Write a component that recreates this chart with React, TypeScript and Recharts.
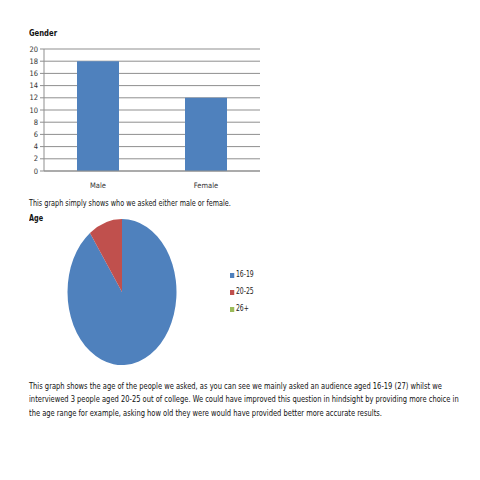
import { Bar, BarChart, CartesianGrid, Cell, Pie, PieChart, XAxis, YAxis } from 'recharts'

// Gender chart
const genders = ['Male', 'Female']
const genderCounts = [18, 12]
const genderTicks = [0, 2, 4, 6, 8, 10, 12, 14, 16, 18, 20]

// Age chart
const ageGroups = ['16-19', '20-25', '26+']
const ageCounts = [27, 3, 0]
const ageColors = ['#4F81BD', '#C0504D', '#9BBB59']

const paragraph = [
  'This graph shows the age of the people we asked, as you can see we mainly asked an audience aged 16-19 (27) whilst we',
  'interviewed 3 people aged 20-25 out of college. We could have improved this question in hindsight by providing more choice in',
  'the age range for example, asking how old they were would have provided better more accurate results.',
]

const FONT = '"DejaVu Sans Condensed", "Liberation Sans", sans-serif'

const genderData = genders.map((name, i) => ({ name, count: genderCounts[i] }))
const ageData = ageGroups.map((name, i) => ({ name, value: ageCounts[i] }))

const text = (top: number, size: number, bold = false, squeeze = 0.8): React.CSSProperties => ({
  position: 'absolute',
  left: 29,
  top,
  fontSize: size,
  fontWeight: bold ? 'bold' : 'normal',
  whiteSpace: 'nowrap',
  lineHeight: 1,
  color: '#111',
  transform: `scaleX(${squeeze})`,
  transformOrigin: '0 0',
})

export default function App() {
  return (
    <div style={{ position: 'absolute', left: 0, top: 0, width: 480, height: 480, background: '#fff', fontFamily: FONT }}>
      <div style={text(28, 9.5, true)}>Gender</div>

      <div style={{ position: 'absolute', left: 0, top: 40 }}>
        <BarChart
          width={270}
          height={160}
          data={genderData}
          margin={{ top: 9, right: 10, bottom: 9, left: 10 }}
          barSize={42}
        >
          <CartesianGrid vertical={false} stroke="#8f8f8f" />
          <XAxis
            dataKey="name"
            height={20}
            tickLine={false}
            axisLine={{ stroke: '#8f8f8f' }}
            tick={{ fontSize: 7.5, fill: '#333', fontFamily: FONT }}
            tickMargin={6}
          />
          <YAxis
            width={34}
            domain={[0, 20]}
            ticks={genderTicks}
            interval={0}
            tickSize={4}
            tickLine={{ stroke: '#8f8f8f' }}
            axisLine={{ stroke: '#8f8f8f' }}
            tick={{ fontSize: 7.5, fill: '#333', fontFamily: FONT }}
          />
          <Bar dataKey="count" fill="#4F81BD" isAnimationActive={false} />
        </BarChart>
      </div>

      <div style={text(199, 9)}>This graph simply shows who we asked either male or female.</div>
      <div style={text(214, 9, true)}>Age</div>

      <div
        style={{
          position: 'absolute',
          left: 61.5,
          top: 232,
          width: 120,
          height: 120,
          transform: 'scaleY(1.34)',
          transformOrigin: '50% 50%',
        }}
      >
        <PieChart width={120} height={120} margin={{ top: 0, right: 0, bottom: 0, left: 0 }}>
          <Pie
            data={ageData}
            dataKey="value"
            nameKey="name"
            cx={60}
            cy={60}
            outerRadius={54.5}
            startAngle={90}
            endAngle={-270}
            stroke="none"
            isAnimationActive={false}
          >
            {ageData.map((d, i) => (
              <Cell key={d.name} fill={ageColors[i]} />
            ))}
          </Pie>
        </PieChart>
      </div>

      {ageGroups.map((name, i) => (
        <div
          key={name}
          style={{
            position: 'absolute',
            left: 230,
            top: 271 + i * 17,
            display: 'flex',
            alignItems: 'center',
            fontSize: 8,
            lineHeight: 1,
            color: '#222',
            transform: 'scaleX(0.85)',
            transformOrigin: '0 0',
          }}
        >
          <span style={{ width: 5, height: 5, background: ageColors[i], marginRight: 2 }} />
          {name}
        </div>
      ))}

      {paragraph.map((line, i) => (
        <div key={i} style={text(382 + i * 13.3, 9, false, 0.83)}>
          {line}
        </div>
      ))}
    </div>
  )
}
